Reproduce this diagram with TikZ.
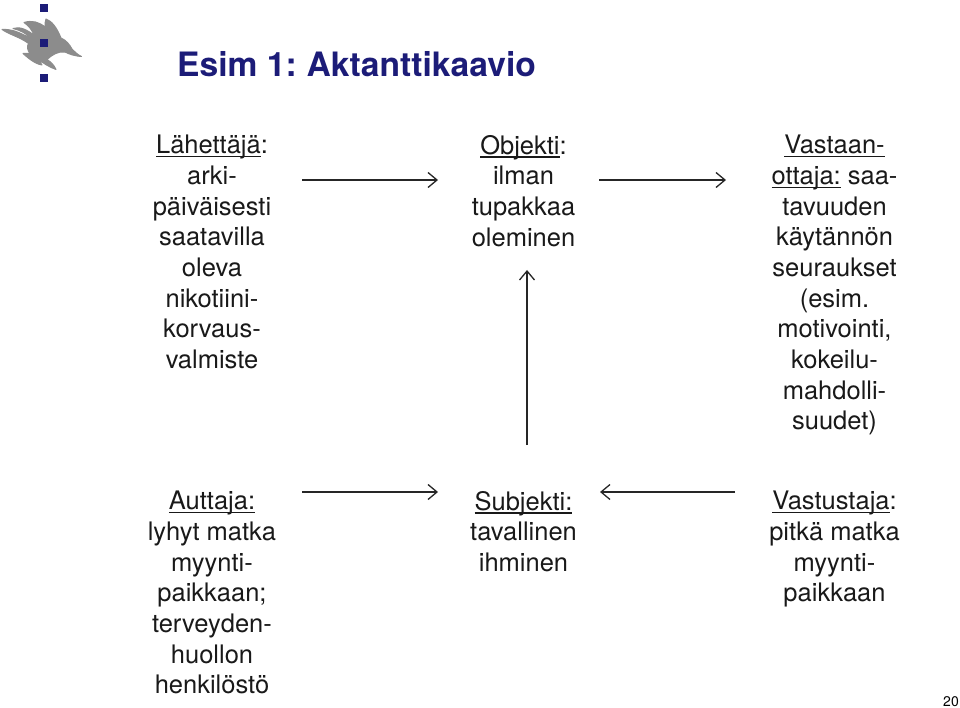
\documentclass[tikz,border=0pt]{standalone}
\usepackage{fontspec}
\setmainfont{TeX Gyre Heros}
\usepackage{xcolor}
\definecolor{navy}{RGB}{28,28,120}
\definecolor{flame}{RGB}{140,140,140}
\newcommand{\ul}[1]{\setbox0=\hbox{#1}\rlap{\rule[-3.4pt]{\wd0}{1.3pt}}\box0\relax}
\usetikzlibrary{arrows.meta}
\tikzset{
  body/.style={align=center,inner sep=0pt,anchor=north,font=\fontsize{25.5}{30.67}\selectfont,text=black!90},
  conn/.style={draw=black!85,line width=1.5pt,-{Straight Barb[length=9pt,width=15pt,line width=1.3pt]}},
  dot/.style={fill=navy,draw=none,minimum size=7.6pt,inner sep=0pt,shape=rectangle}
}
\begin{document}
\begin{tikzpicture}[x=1pt,y=-1pt]
\useasboundingbox (0,0) rectangle (960,708);
% logo
\filldraw[fill=flame,draw=flame,line width=1pt,line join=round] (2,29.5) .. controls (10,29) and (16,31) .. (24,35) -- (31,38)
 .. controls (27,34) and (20,30) .. (13,28.5) .. controls (20,26) and (27,30) .. (34,35)
 .. controls (32,30) and (29,26) .. (24,22.5) .. controls (32,20) and (39,22) .. (45,27)
 .. controls (45,24) and (45,21) .. (46,19) .. controls (52,21) and (57,28) .. (61,38)
 .. controls (66,40) and (70,45) .. (72,49) .. controls (75,52) and (78,55) .. (81.5,56.5)
 .. controls (74,56) and (69,54) .. (65,52) .. controls (58,51) and (52,55) .. (47,59.5)
 .. controls (51,62) and (54,65) .. (56,69.5) .. controls (49,67) and (43,63) .. (38.5,59.5)
 -- (42,65) .. controls (35,64) and (28,58) .. (23,53.5) -- (30,53.5)
 .. controls (27,50) and (27,46) .. (28.5,43.5) .. controls (20,37) and (10,35) .. (2,29.5) -- cycle;
\node[dot] (d1) at (43.7,8.3) {};
\node[dot] (d2) at (43.7,43.3) {};
\node[dot] (d3) at (43.7,78.3) {};
% title
\node[anchor=base west,inner sep=0pt,text=navy,font=\fontsize{33.6}{38}\selectfont\bfseries] (title) at (177,77) {Esim 1:\hspace{10pt}Aktanttikaavio};
% texts
\node[body] (lah) at (212,135) {\ul{Lähettäjä}:\\arki-\\päiväisesti\\saatavilla\\oleva\\nikotiini-\\korvaus-\\valmiste};
\node[body] (obj) at (523.5,135) {\ul{Objekti}:\\ilman\\tupakkaa\\oleminen};
\node[body] (vas) at (834.5,135) {\ul{Vastaan-}\\\ul{ottaja:} saa-\\tavuuden\\käytännön\\seuraukset\\(esim.\\motivointi,\\kokeilu-\\mahdolli-\\suudet)};
\node[body] (aut) at (212,491) {\ul{Auttaja:}\\lyhyt matka\\myynti-\\paikkaan;\\terveyden-\\huollon\\henkilöstö};
\node[body] (sub) at (523.5,491) {\ul{Subjekti:}\\tavallinen\\ihminen};
\node[body] (vst) at (834.5,491) {\ul{Vastustaja}:\\pitkä matka\\myynti-\\paikkaan};
\node[anchor=base east,inner sep=0pt,font=\fontsize{14}{16}\selectfont] (page) at (959,706) {20};
% connector ends
\coordinate (a1) at (302,180); \coordinate (a2) at (438,180);
\coordinate (b1) at (599,180); \coordinate (b2) at (726,180);
\coordinate (c1) at (527,445); \coordinate (c2) at (527,270);
\coordinate (e1) at (302,492); \coordinate (e2) at (438,492);
\coordinate (f1) at (735,492); \coordinate (f2) at (600,492);
\draw[conn] (a1) -- (a2);
\draw[conn] (b1) -- (b2);
\draw[conn] (c1) -- (c2);
\draw[conn] (e1) -- (e2);
\draw[conn] (f1) -- (f2);
\end{tikzpicture}
\end{document}
